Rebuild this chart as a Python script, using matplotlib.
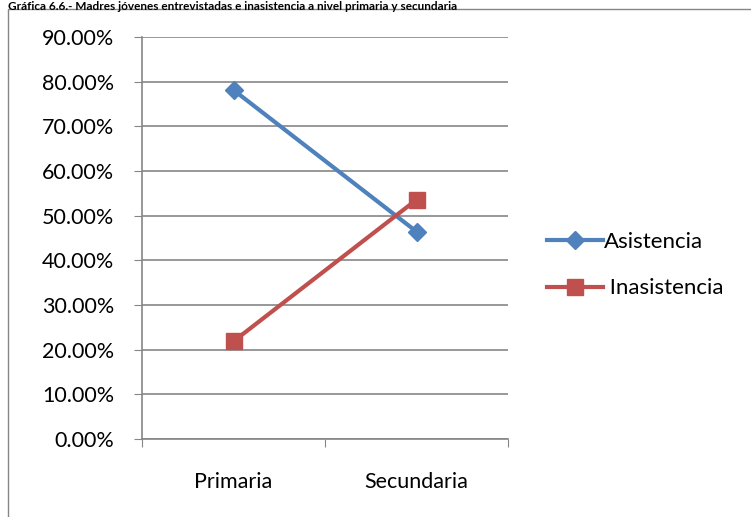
import matplotlib
matplotlib.use("Agg")
import matplotlib.pyplot as plt
import matplotlib.ticker as mticker
from matplotlib.patches import Rectangle

plt.rcParams["font.family"] = ["Lato", "DejaVu Sans"]

# --- Data ---
categories = ["Primaria", "Secundaria"]
asistencia = [78.13, 46.43]
inasistencia = [21.87, 53.57]
title = "Gráfica 6.6.- Madres jóvenes entrevistadas e inasistencia a nivel primaria y secundaria"

W, H = 751, 517
fig = plt.figure(figsize=(W / 100, H / 100), dpi=100)

# outer chart border (extends beyond the canvas on right and bottom)
fig.patches.append(Rectangle((8 / W, -0.1), 1.2, 1 - 9 / H + 0.1, transform=fig.transFigure,
                             fill=False, edgecolor="#868686", linewidth=1.0))

# title at the very top
fig.text(8 / W, 1 - 0.5 / H, title, ha="left", va="top", fontsize=8.5,
         fontweight="bold", color="black")

ax = fig.add_axes([142 / W, 1 - 439 / H, (508 - 142) / W, (439 - 37) / H])
x = [0.5, 1.5]

ax.plot(x, asistencia, color="#4F81BD", linewidth=3, marker="D", markersize=9.5,
        label="Asistencia", zorder=3)
ax.plot(x, inasistencia, color="#C0504D", linewidth=3, marker="s", markersize=12,
        label=" Inasistencia", zorder=3)

ax.set_xlim(0, 2)
ax.set_ylim(0, 90)
ax.set_yticks(range(0, 91, 10))
ax.yaxis.set_major_formatter(mticker.FuncFormatter(lambda v, p: f"{v:.2f}%"))
ax.set_xticks([0, 1, 2])
ax.set_xticklabels([])
ax.set_xticks(x, minor=True)
ax.set_xticklabels(categories, minor=True)
ax.tick_params(axis="x", which="minor", length=0, pad=24, labelsize=15.5)
ax.tick_params(axis="x", which="major", length=6, color="#868686", direction="out")
ax.tick_params(axis="y", length=6, color="#868686", labelsize=15.5, pad=14)

ax.grid(True, axis="y", color="#868686", linewidth=1.2)
ax.set_axisbelow(True)
for s in ["top", "right"]:
    ax.spines[s].set_visible(False)
for s in ["left", "bottom"]:
    ax.spines[s].set_color("#868686")
    ax.spines[s].set_linewidth(1.2)

ax.legend(loc="center left", bbox_to_anchor=(527 / W, 1 - 265 / H), bbox_transform=fig.transFigure,
          frameon=False, fontsize=16, handlelength=2.5, handletextpad=0.05, labelspacing=1.2)

fig.savefig("out.png", dpi=100)
